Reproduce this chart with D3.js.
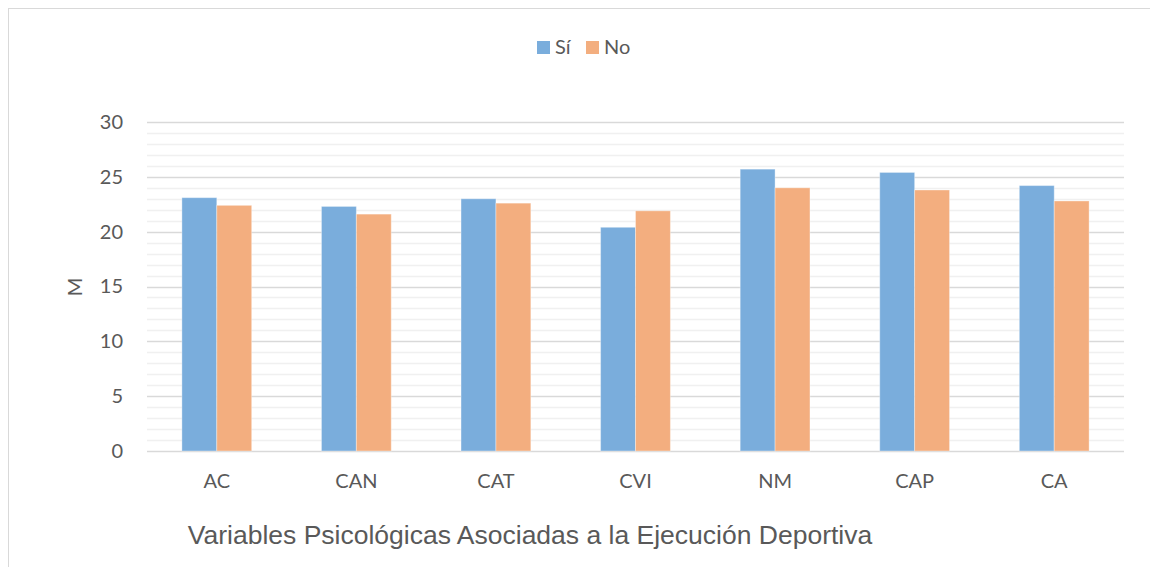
<!DOCTYPE html>
<html>
<head>
<meta charset="utf-8">
<script src="https://cdn.jsdelivr.net/npm/d3@7"></script>
<style>
  body { margin: 0; background: #fff; }
  svg { display: block; }
</style>
</head>
<body>
<svg id="chart"></svg>
<script>
// data
const categories = ['AC', 'CAN', 'CAT', 'CVI', 'NM', 'CAP', 'CA'];
const seriesNames = ['Sí', 'No'];
const siValues = [23.1, 22.3, 23.0, 20.4, 25.7, 25.4, 24.2];
const noValues = [22.4, 21.6, 22.6, 21.9, 24.0, 23.8, 22.8];
const yTicks = [0, 5, 10, 15, 20, 25, 30];
const colors = ['#7aaddc', '#f3ae7f'];

const width = 1150;
const height = 567;
const margin = { top: 122, right: 26, bottom: 116, left: 147 };
const labelFont = 'Lato, "Open Sans", sans-serif';

const svg = d3.select('#chart')
    .attr('width', width)
    .attr('height', height);

// chart area border (bottom/right fall outside the shot)
svg.append('rect')
    .attr('x', 8.5)
    .attr('y', 8.5)
    .attr('width', 1160)
    .attr('height', 600)
    .attr('fill', 'none')
    .attr('stroke', '#d9d9d9')
    .attr('stroke-width', 1);

const x = d3.scaleBand()
    .domain(categories)
    .range([margin.left, width - margin.right])
    .paddingInner(0.5)
    .paddingOuter(0.25);

const xSub = d3.scaleBand()
    .domain(seriesNames)
    .range([0, x.bandwidth()]);

const y = d3.scaleLinear()
    .domain([0, 30])
    .range([height - margin.bottom, margin.top]);

// minor gridlines every 1, major every 5
const grid = svg.append('g');
grid.selectAll('line.minor')
    .data(d3.range(0, 31).filter(v => v % 5 !== 0))
    .join('line')
    .attr('class', 'minor')
    .attr('x1', margin.left)
    .attr('x2', width - margin.right)
    .attr('y1', d => Math.round(y(d)) + 0.5)
    .attr('y2', d => Math.round(y(d)) + 0.5)
    .attr('stroke', '#f0f0f0')
    .attr('stroke-width', 1.5);

grid.selectAll('line.major')
    .data(yTicks)
    .join('line')
    .attr('class', 'major')
    .attr('x1', margin.left)
    .attr('x2', width - margin.right)
    .attr('y1', d => Math.round(y(d)) + 0.5)
    .attr('y2', d => Math.round(y(d)) + 0.5)
    .attr('stroke', '#d9d9d9')
    .attr('stroke-width', 1.5);

// y axis labels
const yAxis = d3.axisLeft(y)
    .tickValues(yTicks)
    .tickSize(0)
    .tickPadding(24);

svg.append('g')
    .attr('transform', `translate(${margin.left},0)`)
    .call(yAxis)
    .call(g => g.select('.domain').remove())
    .call(g => g.selectAll('text')
        .attr('font-family', labelFont)
        .attr('font-size', 20)
        .attr('fill', '#595959'));

// x axis labels
const xAxis = d3.axisBottom(x).tickSize(0).tickPadding(23);

svg.append('g')
    .attr('transform', `translate(0,${height - margin.bottom})`)
    .call(xAxis)
    .call(g => g.select('.domain').remove())
    .call(g => g.selectAll('text')
        .attr('font-family', labelFont)
        .attr('font-size', 20)
        .attr('fill', '#595959'));

// bars
const rows = categories.map((c, i) => ({
  cat: c,
  vals: [siValues[i], noValues[i]],
}));

svg.append('g')
    .selectAll('g')
    .data(rows)
    .join('g')
    .attr('transform', d => `translate(${x(d.cat)},0)`)
    .selectAll('rect')
    .data(d => d.vals.map((v, k) => ({ key: seriesNames[k], v, k })))
    .join('rect')
    .attr('x', d => xSub(d.key))
    .attr('y', d => y(d.v))
    .attr('width', xSub.bandwidth())
    .attr('height', d => y(0) - y(d.v))
    .attr('fill', d => colors[d.k])
    .attr('stroke', '#fff')
    .attr('stroke-opacity', 0.35)
    .attr('stroke-width', 1);

// y axis title
svg.append('text')
    .attr('transform', 'translate(82,287) rotate(-90)')
    .attr('text-anchor', 'middle')
    .attr('font-family', labelFont)
    .attr('font-size', 20)
    .attr('fill', '#595959')
    .text('M');

// x axis title
svg.append('text')
    .attr('x', 530)
    .attr('y', 544)
    .attr('text-anchor', 'middle')
    .attr('font-family', '"Liberation Sans", Arial, sans-serif')
    .attr('font-size', 26.5)
    .attr('fill', '#595959')
    .text('Variables Psicológicas Asociadas a la Ejecución Deportiva');

// legend
const legend = svg.append('g')
    .attr('font-family', labelFont)
    .attr('font-size', 20)
    .attr('fill', '#595959');

const legendX = [537, 586];
seriesNames.forEach((name, k) => {
  legend.append('rect')
      .attr('x', legendX[k])
      .attr('y', 41)
      .attr('width', 13)
      .attr('height', 13)
      .attr('fill', colors[k]);
  legend.append('text')
      .attr('x', legendX[k] + 18)
      .attr('y', 54)
      .text(name);
});
</script>
</body>
</html>
